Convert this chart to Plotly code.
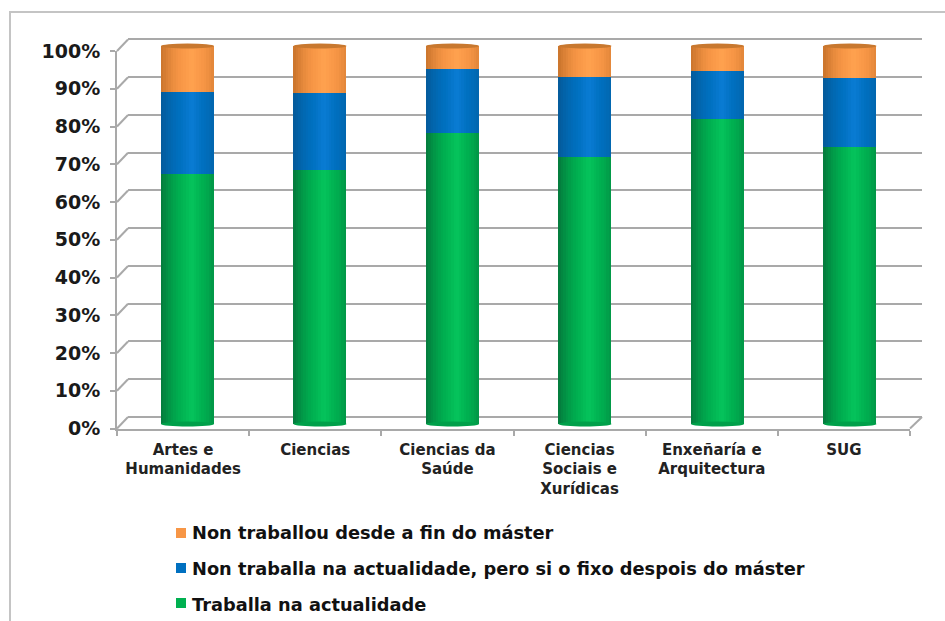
import plotly.graph_objects as go

categories = ["Artes e<br>Humanidades", "Ciencias", "Ciencias da<br>Saúde",
              "Ciencias<br>Sociais e<br>Xurídicas", "Enxeñaría e<br>Arquitectura", "SUG"]
traballa = [66.1, 67.3, 76.9, 70.7, 80.8, 73.3]
non_agora = [21.7, 20.2, 17.0, 21.1, 12.7, 18.3]
non_nunca = [12.2, 12.5, 6.1, 8.2, 6.5, 8.4]
series_names = ["Traballa na actualidade",
                "Non traballa na actualidade, pero si o fixo despois do máster",
                "Non traballou desde a fin do máster"]
series_values = [traballa, non_agora, non_nunca]
y_ticks = list(range(0, 101, 10))
y_labels = [f"{t}%" for t in y_ticks]

W, H = 945, 621
dark = ["#047a3c", "#045a9a", "#c9742c"]
mid = ["#00b050", "#0070c0", "#f79646"]
light = ["#05c45c", "#0a7cd4", "#ffa24f"]
cap = ["#00a04a", "#0060a8", "#c8782f"]


def px(x):
    return x / W


def py(y):
    return 1 - y / H


def blend(a, b, t):
    ca = [int(a[i:i + 2], 16) for i in (1, 3, 5)]
    cb = [int(b[i:i + 2], 16) for i in (1, 3, 5)]
    return "rgb(%d,%d,%d)" % tuple(round(u + (v - u) * t) for u, v in zip(ca, cb))


fig = go.Figure()
pos = list(range(len(categories)))

# wall gridlines subplot (xy) - empty carrier trace
fig.add_trace(go.Scatter(x=[0], y=[0], mode="markers", marker=dict(opacity=0),
                         showlegend=False, hoverinfo="skip", xaxis="x", yaxis="y"))

# cylinders: vertical strips of changing shade, in the bar subplot (x2y2)
NS = 21
bar_w = 0.4
for s, vals in enumerate(series_values):
    base = [sum(series_values[k][i] for k in range(s)) for i in pos]
    for j in range(NS):
        t = (j + 0.5) / NS
        d = abs(t - 0.58) / 0.58
        if d < 0.35:
            col = blend(light[s], mid[s], d / 0.35)
        else:
            col = blend(mid[s], dark[s], ((d - 0.35) / 0.65) ** 1.3)
        fig.add_trace(go.Bar(x=pos, y=vals, base=base, width=bar_w / NS * 1.08,
                             offset=[-bar_w / 2 + j * bar_w / NS] * len(pos),
                             marker=dict(color=col, line=dict(width=0)),
                             showlegend=False, hoverinfo="skip",
                             xaxis="x2", yaxis="y2"))

# legend entries (top row first); the coloured squares sit next to the text as shapes
for s in (2, 1, 0):
    fig.add_trace(go.Bar(x=[None], y=[None], name=series_names[s],
                         marker=dict(color="rgba(0,0,0,0)", line=dict(width=0)),
                         legendgroup=f"g{s}", xaxis="x2", yaxis="y2"))

# front axis subplot (x3y3): tick labels
fig.add_trace(go.Scatter(x=categories, y=[0] * len(categories), mode="markers",
                         marker=dict(opacity=0), showlegend=False, hoverinfo="skip",
                         xaxis="x3", yaxis="y3"))

shapes = []
# cylinder caps
for i in pos:
    shapes.append(dict(type="circle", xref="x2", yref="paper", layer="above",
                       x0=i - bar_w / 2, x1=i + bar_w / 2,
                       y0=py(424 + 2.5), y1=py(424 - 2.5), fillcolor="#00a04a", line=dict(width=0)))
    shapes.append(dict(type="circle", xref="x2", yref="paper", layer="above",
                       x0=i - bar_w / 2, x1=i + bar_w / 2,
                       y0=py(46 + 2.5), y1=py(46 - 2.5), fillcolor=cap[2], line=dict(width=0)))

# side wall: connectors between front axis and back wall
GRID = "#a9a9a9"
FX0, FX1, BX0, BX1 = 117, 910, 128, 922
FY0, FY1, BY0, BY1 = 428.5, 51, 417, 39.5
UNIT = (BY0 - BY1) / 100
for t in y_ticks:
    f = FY0 + (FY1 - FY0) * t / 100
    b = BY0 + (BY1 - BY0) * t / 100
    shapes.append(dict(type="line", xref="paper", yref="paper", x0=px(FX0), x1=px(BX0),
                       y0=py(f), y1=py(b), line=dict(color=GRID, width=2)))
shapes.append(dict(type="line", xref="paper", yref="paper", x0=px(FX1), x1=px(BX1),
                   y0=py(FY0), y1=py(BY0), line=dict(color=GRID, width=2)))
# outer frame, open on the right and at the bottom
shapes.append(dict(type="rect", xref="paper", yref="paper", x0=px(10), x1=px(965),
                   y0=py(12), y1=py(635), line=dict(color="#c4c4c4", width=2),
                   fillcolor="rgba(0,0,0,0)", layer="below"))
# legend squares
for s, row in zip(mid[::-1], (533, 568, 603)):
    shapes.append(dict(type="rect", xref="paper", yref="paper", x0=px(176), x1=px(186),
                       y0=py(row + 5), y1=py(row - 5), fillcolor=s, line=dict(width=0)))

fig.update_layout(
    width=W, height=H, margin=dict(l=0, r=0, t=0, b=0, autoexpand=False),
    paper_bgcolor="white", plot_bgcolor="rgba(0,0,0,0)",
    barmode="overlay", bargap=0, shapes=shapes,
    font=dict(family="DejaVu Sans"),
    # back wall gridlines
    xaxis=dict(domain=[px(BX0), px(BX1)], range=[0, 1], visible=False, anchor="y"),
    yaxis=dict(domain=[py(BY0 + UNIT), py(BY1 - UNIT)], range=[-1, 101], tickvals=y_ticks,
               showticklabels=False, showgrid=True, gridcolor=GRID, gridwidth=2, zeroline=False,
               showline=False, ticks="", anchor="x"),
    # bars
    xaxis2=dict(domain=[px(121.25), px(916.25)], range=[-0.5, 5.5], visible=False, anchor="y2"),
    yaxis2=dict(domain=[py(424), py(46)], range=[0, 100], visible=False, anchor="x2"),
    # front axes with labels
    xaxis3=dict(domain=[px(FX0), px(FX1)], type="category", categoryorder="array", categoryarray=categories,
                range=[-0.5, 5.5], tickson="boundaries", ticks="outside", ticklen=5, tickcolor=GRID, tickwidth=2,
                showline=True, linecolor=GRID, linewidth=2, showgrid=False, zeroline=False,
                tickfont=dict(family="DejaVu Sans", size=15, color="#222222", weight="bold"),
                ticklabelstandoff=6, tickangle=0, anchor="y3"),
    yaxis3=dict(domain=[py(FY0), py(FY1)], range=[0, 100], tickvals=y_ticks, ticktext=y_labels,
                ticks="outside", ticklen=5, tickcolor=GRID, tickwidth=2,
                showline=True, linecolor=GRID, linewidth=2, showgrid=False, zeroline=False,
                tickfont=dict(family="DejaVu Sans", size=19, color="#1a1a1a", weight="bold"),
                ticklabelstandoff=6, anchor="x3"),
    legend=dict(x=px(152), y=py(514), xanchor="left", yanchor="top", traceorder="grouped",
                tracegroupgap=10, bgcolor="rgba(0,0,0,0)",
                font=dict(family="DejaVu Sans", size=17.8, color="#111111", weight="bold"),
                itemwidth=30),
    showlegend=True,
)
fig.write_html("out.html", post_script="document.body.style.margin='0';",
               config=dict(displayModeBar=False))
